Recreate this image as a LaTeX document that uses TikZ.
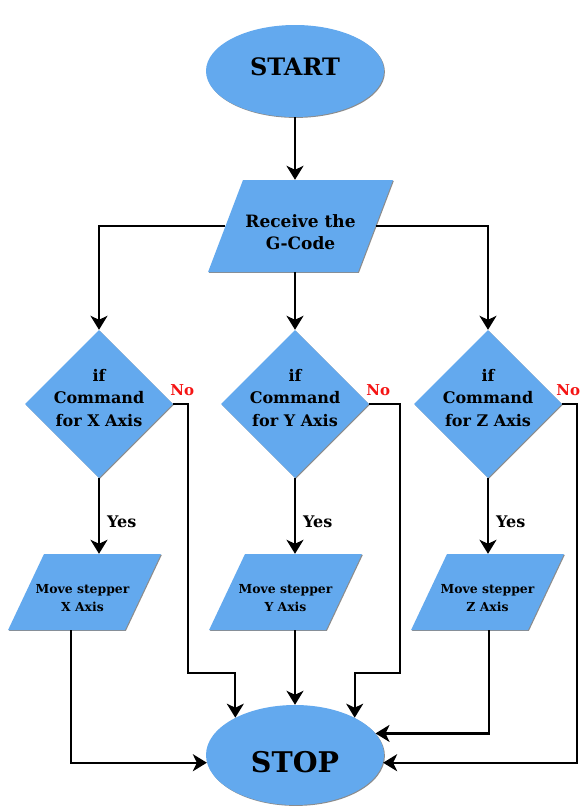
\documentclass[tikz,border=0pt]{standalone}
\usepackage{fontspec}
\setmainfont{DejaVu Serif}
\usetikzlibrary{shapes.geometric, arrows.meta, positioning, shadows}

\definecolor{boxblue}{RGB}{99,169,238}
\definecolor{noRed}{RGB}{245,20,20}

\begin{document}
\begin{tikzpicture}[
    x=1pt, y=-1pt,
    >={Stealth[length=14pt, width=17pt, inset=4pt]},
    shade/.style={drop shadow={shadow xshift=0.9pt, shadow yshift=-0.9pt, fill=black, opacity=0.45}},
    term/.style={ellipse, fill=boxblue, shade, inner sep=0pt, minimum width=178pt, minimum height=#1},
    io/.style={trapezium, fill=boxblue, shade},
    movebox/.style={io, trapezium left angle=64.7, trapezium right angle=115.3, inner xsep=40.5pt, inner ysep=38pt},
    dec/.style={diamond, fill=boxblue, shade, inner sep=0pt, minimum width=148pt, minimum height=148pt},
    ttxt/.style={font=\bfseries\fontsize{#1}{#1}\selectfont, inner sep=0pt},
    itxt/.style={font=\bfseries\fontsize{17}{21.5}\selectfont, align=center, inner sep=0pt},
    dtxt/.style={font=\bfseries\fontsize{16}{22.5}\selectfont, align=center, inner sep=0pt},
    mtxt/.style={font=\bfseries\fontsize{12.4}{18}\selectfont, align=center, inner sep=0pt},
    yes/.style={font=\bfseries\fontsize{16}{16}\selectfont, right=7pt, inner sep=0pt},
    no/.style={font=\bfseries\fontsize{15}{15}\selectfont, text=noRed, anchor=south west, inner sep=0pt},
    arr/.style={->, line width=2.2pt, black},
]
\useasboundingbox (0,0) rectangle (580,806);

% ── Start / input ──
\node[term=92pt] (start) at (295,71) {};
\node[ttxt=24] (start-txt) at ([yshift=4pt]start.center) {START};

\node[io, trapezium left angle=69.2, trapezium right angle=110.8, inner xsep=57.5pt, inner ysep=46pt] (recv) at (300.5,226) {};
\node[itxt] (recv-txt) at ([yshift=-6pt]recv.center) {Receive the\\G-Code};

% ── Decisions ──
\node[dec] (dx) at (99,404) {};
\node[dec] (dy) at (295,404) {};
\node[dec] (dz) at (488,404) {};
\node[dtxt] (dx-txt) at ([yshift=6pt]dx.center) {if\\Command\\for X Axis};
\node[dtxt] (dy-txt) at ([yshift=6pt]dy.center) {if\\Command\\for Y Axis};
\node[dtxt] (dz-txt) at ([yshift=6pt]dz.center) {if\\Command\\for Z Axis};

\node[no] (no-x) at ([xshift=-3pt, yshift=8pt]dx.east) {No};
\node[no] (no-y) at ([xshift=-3pt, yshift=8pt]dy.east) {No};
\node[no] (no-z) at ([xshift=-6pt, yshift=8pt]dz.east) {No};

% ── Steppers ──
\node[movebox] (mx) at (84.5,592) {};
\node[movebox] (my) at (285.5,592) {};
\node[movebox] (mz) at (487.5,592) {};
\node[mtxt] (mx-txt) at ([xshift=-2pt, yshift=-6pt]mx.center) {Move stepper\\X Axis};
\node[mtxt] (my-txt) at ([yshift=-6pt]my.center) {Move stepper\\Y Axis};
\node[mtxt] (mz-txt) at ([yshift=-6pt]mz.center) {Move stepper\\Z Axis};

% ── Stop ──
\node[term=100pt] (stop) at (295,755) {};
\node[ttxt=28.5] (stop-txt) at ([yshift=-7pt]stop.center) {STOP};

% ── Arrows ──
\draw[arr] (start) -- (start |- recv.north);
\draw[arr] (recv.west) -| (dx.north);
\draw[arr] (recv.east) -| (dz.north);
\draw[arr] (dy |- recv.south) -- (dy.north);

\draw[arr] (dx.south) -- (dx.south |- mx.north) node[yes, pos=0.58] (yes-x) {Yes};
\draw[arr] (dy.south) -- (dy.south |- my.north) node[yes, pos=0.58] (yes-y) {Yes};
\draw[arr] (dz.south) -- (dz.south |- mz.north) node[yes, pos=0.58] (yes-z) {Yes};

\draw[arr] (dx.east) -- ++(15,0) -- ++(0,269) -| (stop.148);
\draw[arr] (dy.east) -- ++(31,0) -- ++(0,269) -| (stop.32);
\draw[arr] (dz.east) -- ++(15,0) |- (stop.-5);

\draw[arr] ([xshift=-13.5pt]mx.south) |- (stop.185);
\draw[arr] (my.south -| stop.north) -- (stop.north);
\draw[arr] ([xshift=1.5pt]mz.south) |- (stop.15);

\end{tikzpicture}
\end{document}
